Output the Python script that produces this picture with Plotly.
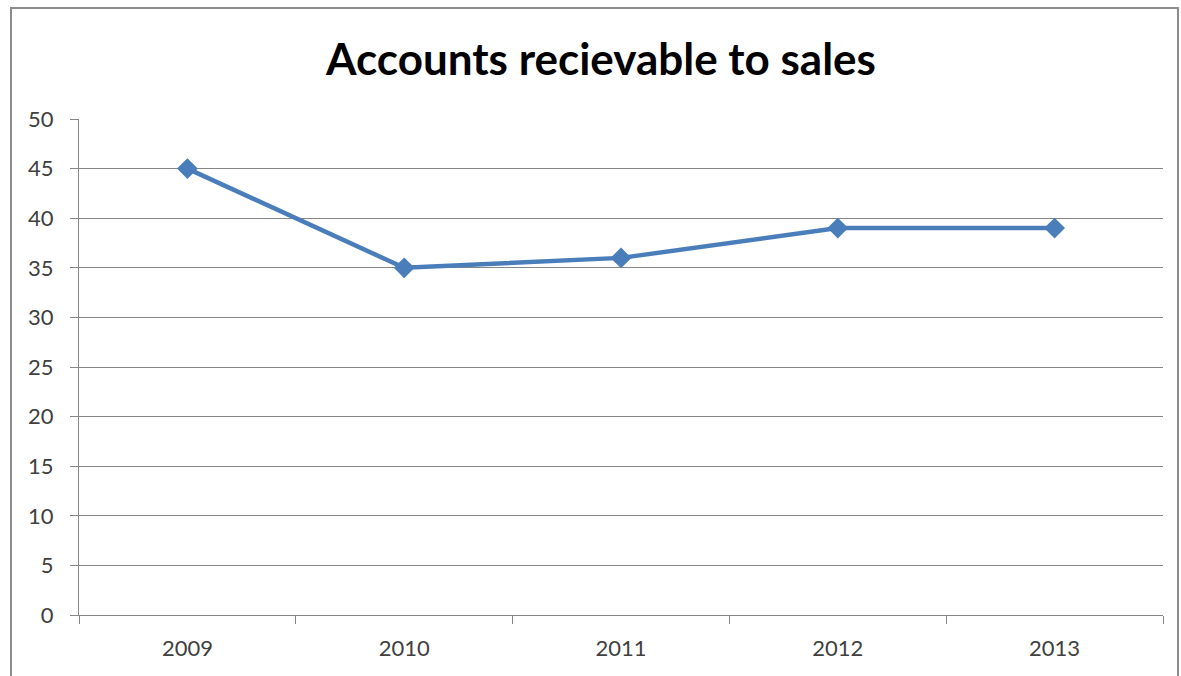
import plotly.graph_objects as go

# Accounts receivable to sales ratio by year
years = ["2009", "2010", "2011", "2012", "2013"]
ratio = [45, 35, 36, 39, 39]
y_ticks = [0, 5, 10, 15, 20, 25, 30, 35, 40, 45, 50]

W, H = 1181, 676
L, R, T, B = 79, 18, 119, 61
pw, ph = W - L - R, H - T - B

fig = go.Figure(
    go.Scatter(
        x=years,
        y=ratio,
        mode="lines+markers",
        line=dict(color="#4a7ebb", width=4.5),
        marker=dict(symbol="diamond", size=16, color="#4a7ebb"),
        showlegend=False,
    )
)

fig.update_layout(
    width=W,
    height=H,
    margin=dict(l=L, r=R, t=T, b=B),
    paper_bgcolor="white",
    plot_bgcolor="white",
    title=dict(
        text="<b>Accounts recievable to sales</b>",
        x=(601 - 0) / W,
        xanchor="center",
        y=1 - 60 / H,
        yanchor="middle",
        font=dict(family="Lato", size=44, color="black"),
    ),
    font=dict(family="Lato", size=22, color="#404040"),
    xaxis=dict(
        type="category",
        tickson="boundaries",
        ticks="outside",
        ticklen=8,
        tickcolor="#868686",
        ticklabelstandoff=14,
        showline=True,
        linecolor="#868686",
        linewidth=1,
        showgrid=False,
        range=[-0.5, 4.5],
        fixedrange=True,
    ),
    yaxis=dict(
        range=[0, 50],
        tickvals=y_ticks,
        ticks="outside",
        ticklen=8,
        tickcolor="#868686",
        ticklabelstandoff=12,
        showline=True,
        linecolor="#868686",
        linewidth=1,
        showgrid=True,
        gridcolor="#868686",
        gridwidth=1,
        zeroline=False,
        fixedrange=True,
    ),
    shapes=[
        dict(
            type="rect",
            xref="paper",
            yref="paper",
            x0=(11 - L) / pw,
            x1=(1178 - L) / pw,
            y0=(H - B - 720) / ph,
            y1=(H - B - 8) / ph,
            line=dict(color="#8c8c8c", width=2),
            fillcolor="rgba(0,0,0,0)",
            layer="below",
        )
    ],
)

fig.write_html("out.html")
